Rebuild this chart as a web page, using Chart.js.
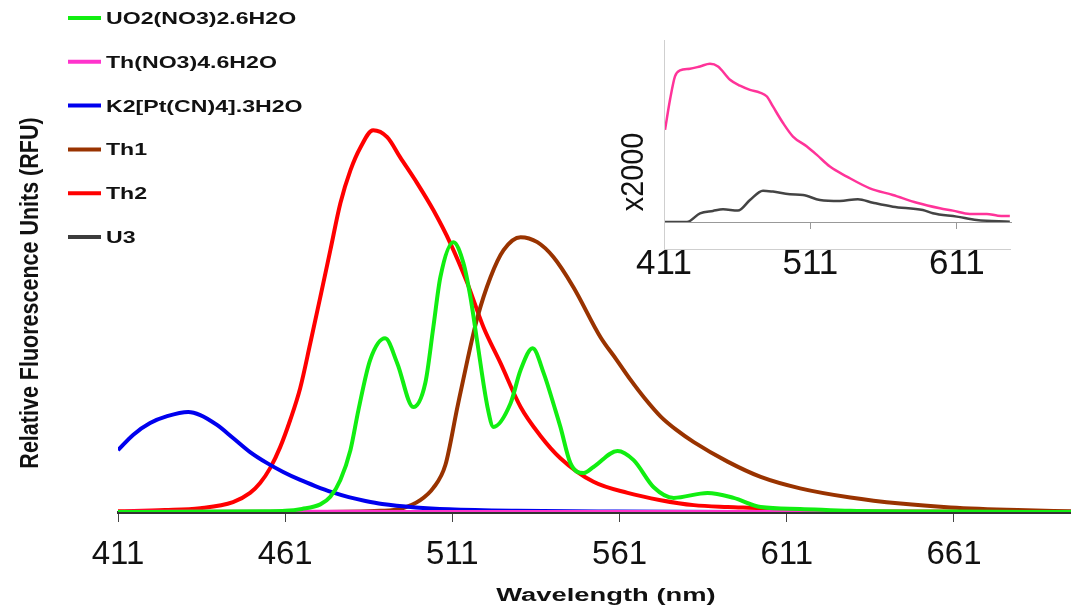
<!DOCTYPE html>
<html>
<head>
<title>Fluorescence spectra</title>
<script src="https://cdn.jsdelivr.net/npm/chart.js"></script>
<style>
  body { margin: 0; background: white; }
  #wrap { position: relative; width: 1071px; height: 605px; }
  #main { position: absolute; left: 0; top: 0; }
  #inset { position: absolute; left: 600px; top: 0; }
</style>
</head>
<body>
<div id="wrap">
  <canvas id="main" width="1071" height="605"></canvas>
  <canvas id="inset" width="471" height="300"></canvas>
</div>

<script>
// tick labels
const xTicks = [411, 461, 511, 561, 611, 661];
const insetTicks = [411, 511, 611];

// UO2(NO3)2.6H2O
const uoNm  = [411, 440, 455, 461, 466, 471.5, 474.5, 477.5, 480.5, 482.9, 486.4, 490.9, 494.5, 499.3, 502.9, 505.3, 507.4, 511.3, 514.3, 516.4, 518.5, 521.5, 523.3, 528.4, 531.4, 535, 538.3, 541.8, 543.3, 546.3, 550.2, 553.2, 560.4, 565.2, 571.2, 577.2, 587.3, 595.1, 603.2, 615, 630, 660, 696];
const uoVal = [0, 0.1, 0.2, 0.3, 0.8, 2.0, 4.0, 8.4, 16.2, 26.7, 39.8, 45.5, 39.0, 27.5, 33.8, 48.4, 61.5, 70.7, 65.2, 56.3, 44.2, 27.5, 22.3, 28.5, 37.2, 42.9, 36.4, 26.7, 22.3, 12.8, 10.2, 11.8, 16.0, 13.6, 6.5, 3.7, 5.0, 3.7, 1.3, 0.8, 0.3, 0.1, 0];

// K2[Pt(CN)4].3H2O
const ptNm  = [411, 415.5, 420.6, 425.7, 432, 435.6, 440.6, 445.4, 450.5, 455.6, 460.4, 465.5, 470, 475, 480, 485, 490, 500, 510, 530, 560, 600, 696];
const ptVal = [16.2, 20.2, 23.3, 25.1, 26.2, 25.4, 22.8, 19.4, 15.7, 12.8, 10.5, 8.4, 6.8, 5.2, 3.9, 2.9, 2.1, 1.2, 0.7, 0.3, 0.1, 0, 0];

// Th1
const th1Nm  = [411, 470, 489.4, 495.4, 501.4, 505.3, 508.9, 512.5, 515.5, 518.5, 522.4, 526.3, 531.4, 536.4, 541.2, 547.2, 555.3, 560, 564.3, 568.5, 573.3, 578, 583.2, 593.3, 603.2, 615, 630, 645, 660, 680, 696];
const th1Val = [0, 0, 0.3, 0.8, 3.1, 6.3, 12.3, 27.5, 39.8, 51.0, 61.5, 68.6, 72.0, 70.7, 66.8, 58.9, 45.8, 40.0, 34.6, 29.8, 25.0, 21.5, 18.3, 13.2, 9.2, 6.2, 3.8, 2.2, 1.2, 0.5, 0.2];

// Th2
const th2Nm  = [411, 425, 435.6, 445.4, 450.5, 453.5, 456.5, 459.5, 462.5, 465.5, 468.5, 471.5, 474.5, 477.5, 480.5, 483.5, 487.3, 491.5, 495.4, 500.5, 505.3, 510.4, 515.5, 520.3, 525.4, 531.4, 537.3, 543.3, 553.2, 563.4, 573.3, 583.2, 593.3, 603.2, 615, 645, 696];
const th2Val = [0.2, 0.5, 1.0, 2.6, 5.0, 7.6, 11.5, 17.0, 24.1, 32.5, 44.2, 56.3, 68.6, 80.9, 89.5, 95.5, 100, 98.2, 92.9, 86.1, 79.1, 70.4, 59.9, 48.4, 39.0, 27.5, 20.0, 14.1, 7.9, 5.0, 3.1, 1.8, 1.3, 1.0, 0.3, 0.1, 0];

// inset (x2000): Th(NO3)4.6H2O and U3
const thnNm  = [411.7, 415.1, 418.5, 421.9, 428.7, 435.6, 442.4, 447.9, 456.1, 462.9, 469.7, 476.5, 481.3, 485.4, 492.2, 499.1, 508.6, 515.4, 524.3, 535.9, 551.6, 567.3, 583.7, 599.4, 608.3, 619.9, 631.5, 639, 647.2];
const thnVal = [58.2, 77.2, 92.0, 95.8, 96.8, 98.3, 100, 98.3, 89.9, 86.1, 83.5, 81.8, 79.3, 73.0, 62.7, 54.0, 47.7, 42.4, 35.0, 28.7, 21.3, 17.1, 12.2, 8.7, 7.2, 5.1, 5.1, 4.0, 3.8];
const u3Nm  = [411, 426.7, 435.6, 444.4, 451.3, 461.5, 469.7, 478.6, 485.4, 497, 505.9, 517.5, 531.1, 543.4, 553.7, 567.3, 587.8, 594.6, 611, 624.6, 647.2];
const u3Val = [0, 0, 5.5, 7.0, 8.0, 7.2, 13.9, 19.8, 19.2, 17.5, 17.1, 13.9, 13.3, 14.4, 12.2, 9.7, 7.6, 5.5, 3.4, 1.3, 0.2];
const insetFactor = 2000;

const FONT = 'Arial, "Liberation Sans", sans-serif';

function pts(nm, val, div) {
  return nm.map((x, i) => ({ x: x, y: val[i] / (div || 1) }));
}
function line(label, color, data, width) {
  return { label, data, borderColor: color, borderWidth: width || 4, pointRadius: 0,
           fill: false, cubicInterpolationMode: 'monotone' };
}

// draws stretched text, the source figure was scaled unevenly
function stretchText(ctx, txt, x, y, font, sx, rot) {
  ctx.save();
  ctx.translate(x, y);
  if (rot) ctx.rotate(rot);
  ctx.scale(sx, 1);
  ctx.font = font;
  ctx.fillText(txt, 0, 0);
  ctx.restore();
}

const textPlugin = {
  id: 'texts',
  afterDraw(chart) {
    const ctx = chart.ctx;
    ctx.save();
    ctx.fillStyle = '#111';
    ctx.textBaseline = 'alphabetic';
    // legend
    ctx.textAlign = 'left';
    chart.data.datasets.forEach((ds, i) => {
      const y = 18 + i * 43.8;
      ctx.strokeStyle = ds.borderColor;
      ctx.lineWidth = 4;
      ctx.beginPath();
      ctx.moveTo(68, y);
      ctx.lineTo(101, y);
      ctx.stroke();
      stretchText(ctx, ds.label, 106, y + 6, 'bold 17px ' + FONT, 1.36);
    });
    // axis titles
    ctx.textAlign = 'center';
    stretchText(ctx, 'Wavelength (nm)', 606, 601, 'bold 18px ' + FONT, 1.52);
    stretchText(ctx, 'Relative Fluorescence Units (RFU)', 38, 293, 'bold 25px ' + FONT, 0.86, -Math.PI / 2);
    ctx.restore();
  }
};

new Chart(document.getElementById('main'), {
  type: 'line',
  data: {
    datasets: [
      line('UO2(NO3)2.6H2O', '#11ee11', pts(uoNm, uoVal)),
      line('Th(NO3)4.6H2O', '#ff33cc', pts(thnNm, thnVal, insetFactor)),
      line('K2[Pt(CN)4].3H2O', '#0000ee', pts(ptNm, ptVal)),
      line('Th1', '#993300', pts(th1Nm, th1Val)),
      line('Th2', '#ff0000', pts(th2Nm, th2Val)),
      line('U3', '#3c3c3c', pts(u3Nm, u3Val, insetFactor))
    ]
  },
  options: {
    responsive: false,
    animation: false,
    layout: { padding: { left: 118, top: 12, right: 0, bottom: 0 } },
    plugins: { legend: { display: false }, tooltip: { enabled: false } },
    scales: {
      x: {
        type: 'linear', min: 411, max: 696,
        afterBuildTicks: s => { s.ticks = xTicks.map(v => ({ value: v })); },
        afterFit: s => { s.height = 93; },
        grid: { drawOnChartArea: false, drawTicks: true, tickLength: 10, tickColor: '#444', tickWidth: 1 },
        border: { display: true, color: '#333', width: 3 },
        ticks: { font: { family: FONT, size: 33 }, color: '#111', padding: 13, maxRotation: 0, autoSkip: false }
      },
      y: { display: false, min: 0, max: 131 }
    }
  },
  plugins: [textPlugin]
});

const insetPlugin = {
  id: 'insetFrame',
  afterDraw(chart) {
    const ctx = chart.ctx, a = chart.chartArea;
    ctx.save();
    ctx.strokeStyle = '#cfcfcf';
    ctx.lineWidth = 1;
    ctx.beginPath();
    ctx.moveTo(a.left + 0.5, a.top);
    ctx.lineTo(a.left + 0.5, a.bottom + 27.5);
    ctx.lineTo(a.right, a.bottom + 27.5);
    ctx.stroke();
    ctx.fillStyle = '#111';
    ctx.textAlign = 'center';
    ctx.textBaseline = 'alphabetic';
    stretchText(ctx, 'x2000', 43, 172, '32px ' + FONT, 0.9, -Math.PI / 2);
    ctx.restore();
  }
};

new Chart(document.getElementById('inset'), {
  type: 'line',
  data: {
    datasets: [
      line('Th(NO3)4.6H2O', '#ff3399', pts(thnNm, thnVal), 2.5),
      line('U3', '#444444', pts(u3Nm, u3Val), 2.5)
    ]
  },
  options: {
    responsive: false,
    animation: false,
    layout: { padding: { left: 64, top: 40, right: 60, bottom: 0 } },
    plugins: { legend: { display: false }, tooltip: { enabled: false } },
    scales: {
      x: {
        type: 'linear', min: 411, max: 648,
        afterBuildTicks: s => { s.ticks = insetTicks.map(v => ({ value: v })); },
        afterFit: s => { s.height = 78; },
        grid: { drawOnChartArea: false, drawTicks: true, tickLength: 7, tickColor: '#999', tickWidth: 1 },
        border: { display: true, color: '#999', width: 1 },
        ticks: { font: { family: FONT, size: 35 }, color: '#111', padding: 14, maxRotation: 0, autoSkip: false }
      },
      y: { display: false, min: 0, max: 115 }
    }
  },
  plugins: [insetPlugin]
});
</script>
</body>
</html>
